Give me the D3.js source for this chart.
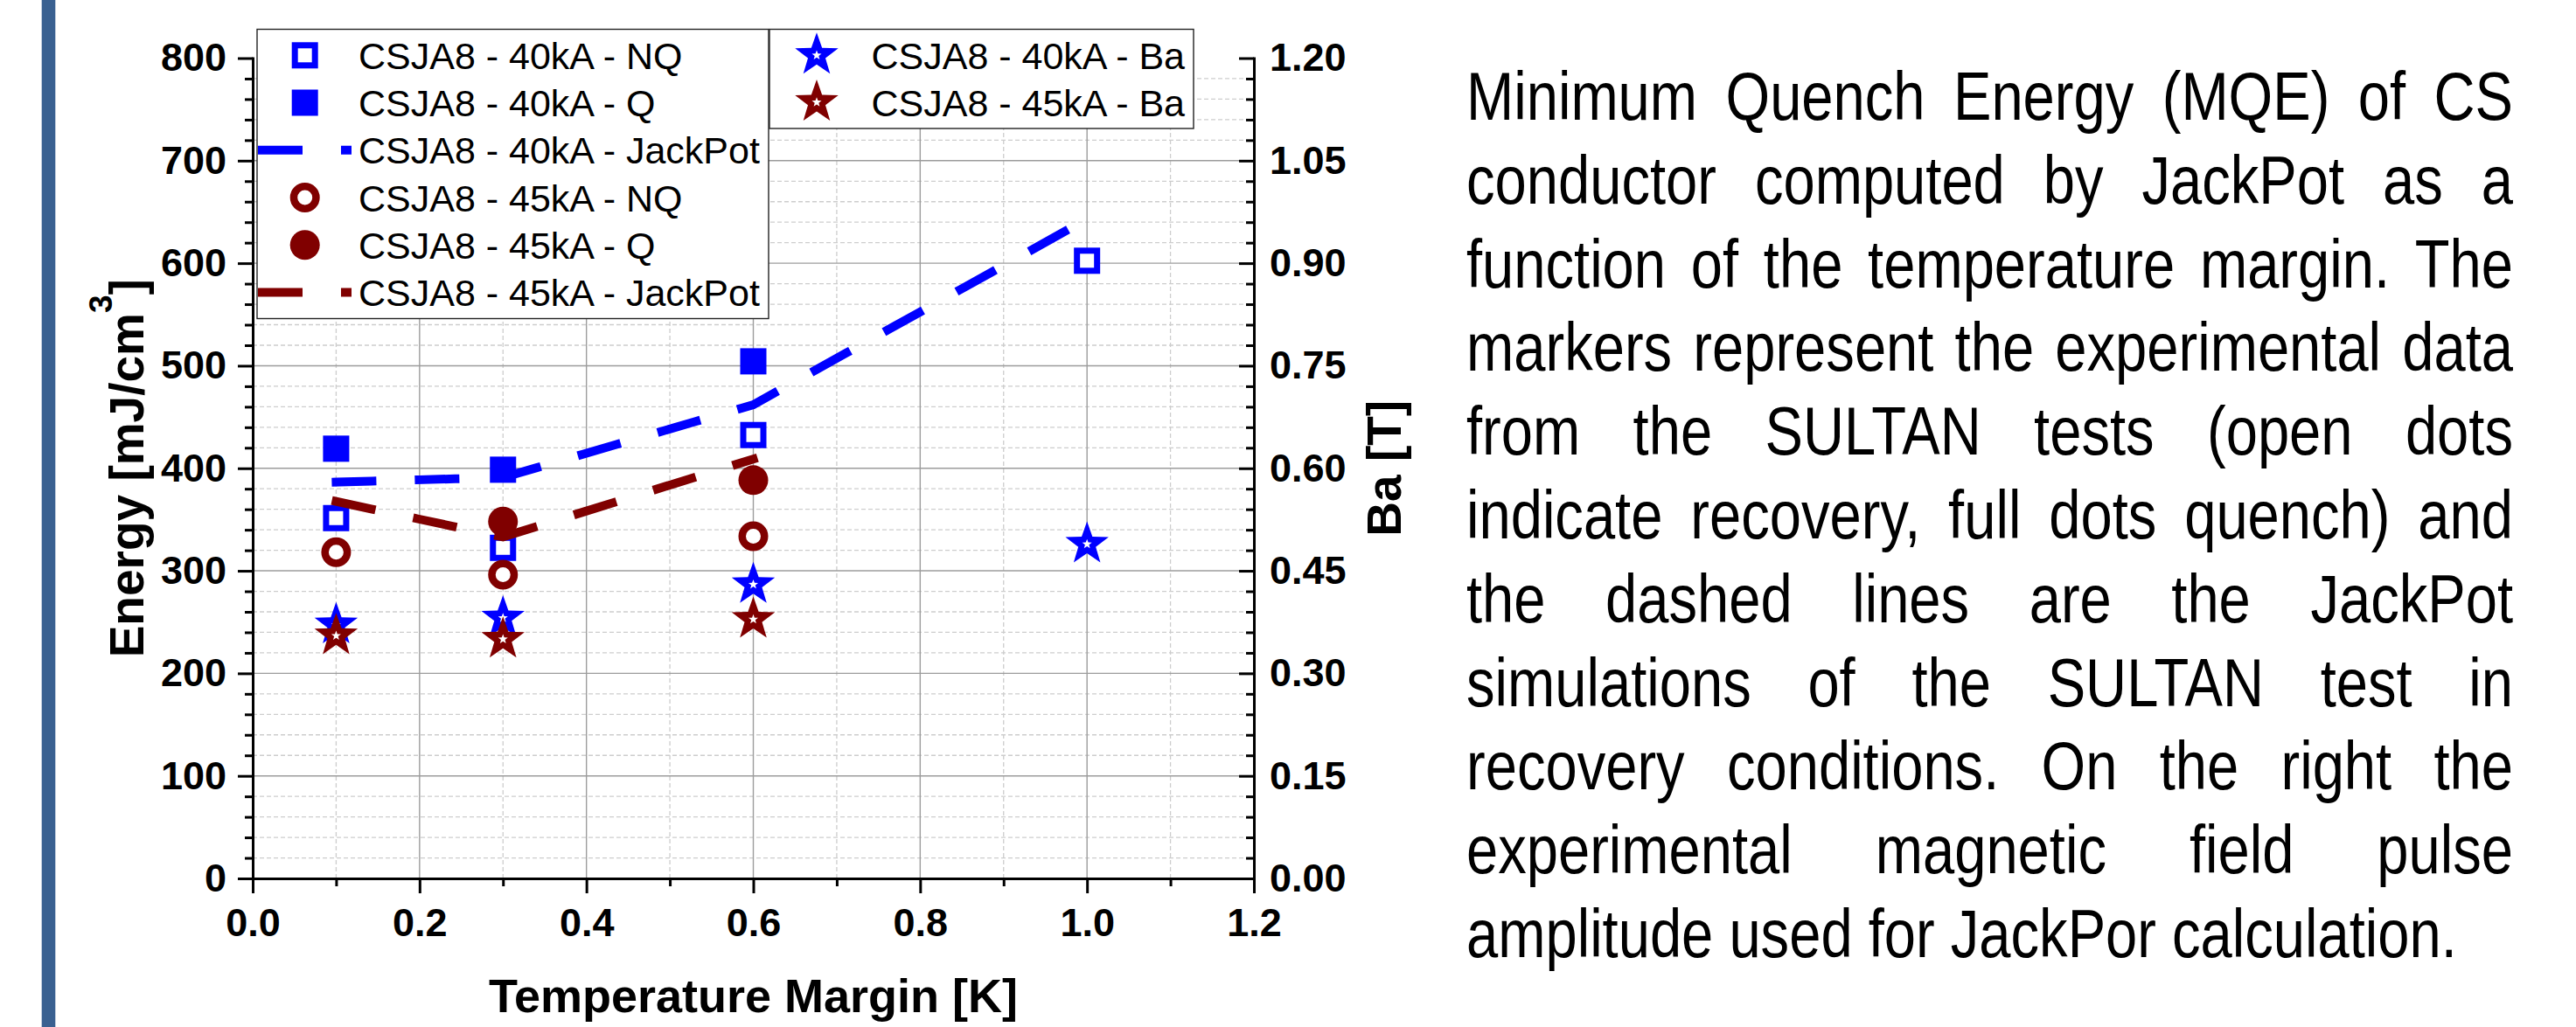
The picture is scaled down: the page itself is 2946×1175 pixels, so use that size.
<!DOCTYPE html>
<html><head><meta charset="utf-8">
<script src="https://cdn.jsdelivr.net/npm/d3@7"></script>
<style>body{margin:0;background:#fff}svg{display:block}</style>
</head><body>
<svg id="c" width="2946" height="1175"></svg>
<script>
// ---------- data ----------
const xTickValues = [0.0, 0.2, 0.4, 0.6, 0.8, 1.0, 1.2];
const xMinorValues = [0.1, 0.3, 0.5, 0.7, 0.9, 1.1];
const yTickValues = [0, 100, 200, 300, 400, 500, 600, 700, 800];
const yMinorValues = [20,40,60,80,120,140,160,180,220,240,260,280,320,340,360,380,420,440,460,480,520,540,560,580,620,640,660,680,720,740,760,780];
const rTickValues = [0.00, 0.15, 0.30, 0.45, 0.60, 0.75, 0.90, 1.05, 1.20];
const rMinorValues = [0.03,0.06,0.09,0.12,0.18,0.21,0.24,0.27,0.33,0.36,0.39,0.42,0.48,0.51,0.54,0.57,0.63,0.66,0.69,0.72,0.78,0.81,0.84,0.87,0.93,0.96,0.99,1.02,1.08,1.11,1.14,1.17];

// [temperature margin K, energy mJ/cm3]
const nq40 = [[0.1, 351.4], [0.3, 322.4], [0.6, 432.4], [1.0, 602.4]];
const q40  = [[0.1, 419.1], [0.3, 398.6], [0.6, 504.3]];
const jp40 = [[0.1, 386.5], [0.3, 391.0], [0.6, 462.0], [1.0, 643.0]];
const nq45 = [[0.1, 318.2], [0.3, 296.3], [0.6, 333.8]];
const q45  = [[0.3, 348.0], [0.6, 388.4]];
const jp45 = [[0.1, 367.6], [0.3, 333.0], [0.6, 409.0]];
// [temperature margin K, Ba T]
const ba40 = [[0.1, 0.371], [0.3, 0.381], [0.6, 0.430], [1.0, 0.489]];
const ba45 = [[0.1, 0.355], [0.3, 0.350], [0.6, 0.379]];

const legendLeft = ["CSJA8 - 40kA - NQ", "CSJA8 - 40kA - Q", "CSJA8 - 40kA - JackPot", "CSJA8 - 45kA - NQ", "CSJA8 - 45kA - Q", "CSJA8 - 45kA - JackPot"];
const legendRight = ["CSJA8 - 40kA - Ba", "CSJA8 - 45kA - Ba"];

const paragraph = [
  "Minimum Quench Energy (MQE) of CS",
  "conductor computed by JackPot as a",
  "function of the temperature margin. The",
  "markers represent the experimental data",
  "from the SULTAN tests (open dots",
  "indicate recovery, full dots quench) and",
  "the dashed lines are the JackPot",
  "simulations of the SULTAN test in",
  "recovery conditions. On the right the",
  "experimental magnetic field pulse",
  "amplitude used for JackPor calculation."
];

// ---------- setup ----------
const BLUE = "#0000ff", RED = "#800000";
const FONT = "'Liberation Sans', Arial, Helvetica, sans-serif";
const svg = d3.select("#c");

const x = d3.scaleLinear().domain([0, 1.2]).range([289, 1434]);
const y = d3.scaleLinear().domain([0, 800]).range([1005, 66.5]);
const yR = d3.scaleLinear().domain([0, 1.2]).range([1005, 66.5]);

// left decorative bar
svg.append("rect").attr("x", 47.7).attr("y", 0).attr("width", 15.6).attr("height", 1175).attr("fill", "#3a6191");

// ---------- grid ----------
const grid = svg.append("g");
grid.selectAll(".ymin").data(yMinorValues).join("line")
  .attr("x1", x(0)).attr("x2", x(1.2)).attr("y1", d => y(d)).attr("y2", d => y(d))
  .attr("stroke", "#cdcdcd").attr("stroke-width", 1.3).attr("stroke-dasharray", "5,3");
grid.selectAll(".xmin").data(xMinorValues).join("line")
  .attr("x1", d => x(d)).attr("x2", d => x(d)).attr("y1", y(0)).attr("y2", y(800))
  .attr("stroke", "#cdcdcd").attr("stroke-width", 1.3).attr("stroke-dasharray", "5,3");
grid.selectAll(".ymaj").data(yTickValues.filter(d => d > 0 && d < 800)).join("line")
  .attr("x1", x(0)).attr("x2", x(1.2)).attr("y1", d => y(d)).attr("y2", d => y(d))
  .attr("stroke", "#9c9c9c").attr("stroke-width", 1.4);
grid.selectAll(".xmaj").data(xTickValues.filter(d => d > 0 && d < 1.2)).join("line")
  .attr("x1", d => x(d)).attr("x2", d => x(d)).attr("y1", y(0)).attr("y2", y(800))
  .attr("stroke", "#9c9c9c").attr("stroke-width", 1.4);

// ---------- axes ----------
function styleAxis(g, showText) {
  g.attr("font-family", FONT).attr("font-size", 45).attr("font-weight", "bold");
  g.selectAll("path.domain").attr("stroke", "#000").attr("stroke-width", 3).attr("stroke-linecap", "square");
  g.selectAll(".tick line").attr("stroke", "#000").attr("stroke-width", 3);
  g.selectAll(".tick text").attr("fill", "#000");
  if (!showText) g.selectAll("path.domain").remove();
}
svg.append("g").attr("transform", `translate(${x(0)},0)`)
  .call(d3.axisLeft(y).tickValues(yMinorValues).tickSize(9).tickFormat(""))
  .call(g => styleAxis(g, false));
svg.append("g").attr("transform", `translate(${x(0)},0)`)
  .call(d3.axisLeft(y).tickValues(yTickValues).tickSize(17).tickSizeOuter(0).tickPadding(13).tickFormat(d3.format("d")))
  .call(g => styleAxis(g, true));

svg.append("g").attr("transform", `translate(0,${y(0)})`)
  .call(d3.axisBottom(x).tickValues(xMinorValues).tickSize(9).tickFormat(""))
  .call(g => styleAxis(g, false));
svg.append("g").attr("transform", `translate(0,${y(0)})`)
  .call(d3.axisBottom(x).tickValues(xTickValues).tickSize(17).tickSizeOuter(0).tickPadding(17).tickFormat(d3.format(".1f")))
  .call(g => styleAxis(g, true));

svg.append("g").attr("transform", `translate(${x(1.2)},0)`)
  .call(d3.axisRight(yR).tickValues(rMinorValues).tickSize(-9).tickFormat(""))
  .call(g => styleAxis(g, false));
svg.append("g").attr("transform", `translate(${x(1.2)},0)`)
  .call(d3.axisRight(yR).tickValues(rTickValues).tickSize(-17).tickSizeOuter(0).tickPadding(18).tickFormat(d3.format(".2f")))
  .call(g => styleAxis(g, true));

// axis titles
svg.append("text").attr("x", (x(0) + x(1.2)) / 2).attr("y", 1158)
  .attr("text-anchor", "middle").attr("font-family", FONT).attr("font-weight", "bold").attr("font-size", 54)
  .text("Temperature Margin [K]");
const yt = svg.append("text").attr("transform", `translate(164,${(y(0) + y(800)) / 2}) rotate(-90)`)
  .attr("text-anchor", "middle").attr("font-family", FONT).attr("font-weight", "bold").attr("font-size", 55);
yt.append("tspan").text("Energy [mJ/cm");
yt.append("tspan").attr("font-size", 37).attr("dy", -36).text("3");
yt.append("tspan").attr("dy", 36).text("]");
svg.append("text").attr("transform", `translate(1602,${(y(0) + y(800)) / 2}) rotate(-90)`)
  .attr("text-anchor", "middle").attr("font-family", FONT).attr("font-weight", "bold").attr("font-size", 55)
  .text("Ba [T]");

// ---------- marks ----------
const line = d3.line().x(d => x(d[0])).y(d => y(d[1]));
function starPath(R, r) {
  const pts = [];
  for (let i = 0; i < 10; i++) {
    const a = -Math.PI / 2 + i * Math.PI / 5;
    const rad = i % 2 === 0 ? R : r;
    pts.push([rad * Math.cos(a), rad * Math.sin(a)]);
  }
  return "M" + pts.map(p => p.join(",")).join("L") + "Z";
}
const marks = svg.append("g");
function openSquares(g, data, color) {
  g.selectAll(null).data(data).join("rect")
    .attr("x", d => x(d[0]) - 11.5).attr("y", d => y(d[1]) - 11.5)
    .attr("width", 23).attr("height", 23).attr("fill", "#fff").attr("stroke", color).attr("stroke-width", 7);
}
function filledSquares(g, data, color) {
  g.selectAll(null).data(data).join("rect")
    .attr("x", d => x(d[0]) - 15).attr("y", d => y(d[1]) - 15)
    .attr("width", 30).attr("height", 30).attr("fill", color);
}
function openCircles(g, data, color) {
  g.selectAll(null).data(data).join("circle")
    .attr("cx", d => x(d[0])).attr("cy", d => y(d[1])).attr("r", 12.75)
    .attr("fill", "#fff").attr("stroke", color).attr("stroke-width", 8.5);
}
function filledCircles(g, data, color) {
  g.selectAll(null).data(data).join("circle")
    .attr("cx", d => x(d[0])).attr("cy", d => y(d[1])).attr("r", 17).attr("fill", color);
}
function dashed(g, data, color) {
  g.append("path").datum(data).attr("d", line).attr("fill", "none")
    .attr("stroke", color).attr("stroke-width", 10).attr("stroke-dasharray", "41,54")
    .attr("stroke-linecap", "square");
}
function stars(g, data, color, scale) {
  const s = g.selectAll(null).data(data).join("g")
    .attr("transform", d => `translate(${x(d[0])},${scale(d[1])})`);
  s.append("path").attr("d", starPath(26, 10.5)).attr("fill", color);
  s.append("path").attr("d", starPath(5.8, 2.4)).attr("fill", "#fff");
}
openSquares(marks.append("g"), nq40, BLUE);
filledSquares(marks.append("g"), q40, BLUE);
dashed(marks, jp40, BLUE);
openCircles(marks.append("g"), nq45, RED);
filledCircles(marks.append("g"), q45, RED);
dashed(marks, jp45, RED);
stars(marks.append("g"), ba40, BLUE, yR);
stars(marks.append("g"), ba45, RED, yR);

// ---------- legends ----------
const leg = svg.append("g").attr("font-family", FONT).attr("font-size", 43);
leg.append("rect").attr("x", 294).attr("y", 33.5).attr("width", 585).attr("height", 331)
  .attr("fill", "#fff").attr("stroke", "#222").attr("stroke-width", 1.4);
leg.append("rect").attr("x", 880).attr("y", 33.5).attr("width", 485).attr("height", 113.5)
  .attr("fill", "#fff").attr("stroke", "#222").attr("stroke-width", 1.4);
const rowsL = [63.3, 117.5, 171.7, 226, 280.2, 334.4];
const mx = 348.7;
leg.selectAll(".lt").data(legendLeft).join("text")
  .attr("x", 410).attr("y", (d, i) => rowsL[i] + 15.5).text(d => d);
leg.append("rect").attr("x", mx - 11.5).attr("y", rowsL[0] - 11.5).attr("width", 23).attr("height", 23)
  .attr("fill", "#fff").attr("stroke", BLUE).attr("stroke-width", 7);
leg.append("rect").attr("x", mx - 15).attr("y", rowsL[1] - 15).attr("width", 30).attr("height", 30).attr("fill", BLUE);
leg.append("line").attr("x1", 300).attr("x2", 397).attr("y1", rowsL[2]).attr("y2", rowsL[2])
  .attr("stroke", BLUE).attr("stroke-width", 10).attr("stroke-dasharray", "41,54").attr("stroke-linecap", "square");
leg.append("circle").attr("cx", mx).attr("cy", rowsL[3]).attr("r", 12.75).attr("fill", "#fff")
  .attr("stroke", RED).attr("stroke-width", 8.5);
leg.append("circle").attr("cx", mx).attr("cy", rowsL[4]).attr("r", 17).attr("fill", RED);
leg.append("line").attr("x1", 300).attr("x2", 397).attr("y1", rowsL[5]).attr("y2", rowsL[5])
  .attr("stroke", RED).attr("stroke-width", 10).attr("stroke-dasharray", "41,54").attr("stroke-linecap", "square");
const rowsR = [63.3, 117];
leg.selectAll(".rt").data(legendRight).join("text")
  .attr("x", 996.5).attr("y", (d, i) => rowsR[i] + 15.5).text(d => d);
[BLUE, RED].forEach((c, i) => {
  const s = leg.append("g").attr("transform", `translate(934,${rowsR[i]})`);
  s.append("path").attr("d", starPath(26, 10.5)).attr("fill", c);
  s.append("path").attr("d", starPath(5.8, 2.4)).attr("fill", "#fff");
});

// ---------- paragraph (justified, condensed) ----------
// pick a narrow face if one is installed, otherwise condense the regular one
function measure(fam, str) {
  const t = svg.append("text").attr("font-family", fam).attr("font-size", 77).text(str);
  const w = t.node().getComputedTextLength(); t.remove(); return w;
}
const probe = "amplitude used for JackPor calculation.";
const narrowFam = "'Liberation Sans Narrow', 'Arial Narrow', monospace";
const hasNarrow = Math.abs(measure(narrowFam, probe) - measure("monospace", probe)) > 1;
const PFONT = hasNarrow ? "'Liberation Sans Narrow', 'Arial Narrow', sans-serif" : FONT;
const lastW = measure(PFONT, probe);
const SX = 1133 / lastW;                       // last line ends at x≈2810
const PX0 = 1677, PX1 = 2874, B0 = 137, LH = 95.8;
const W = (PX1 - PX0) / SX;
const para = svg.append("g").attr("transform", `translate(${PX0},0) scale(${SX},1)`)
  .attr("font-family", PFONT).attr("font-size", 77).attr("fill", "#000");
paragraph.forEach((ln, i) => {
  const yy = B0 + i * LH;
  if (i === paragraph.length - 1) {
    para.append("text").attr("x", 0).attr("y", yy).text(ln);
    return;
  }
  const words = ln.split(" ");
  const nodes = words.map(w => para.append("text").attr("y", yy).text(w));
  const widths = nodes.map(n => n.node().getComputedTextLength());
  const gap = (W - d3.sum(widths)) / (words.length - 1);
  let cx = 0;
  nodes.forEach((n, k) => { n.attr("x", cx); cx += widths[k] + gap; });
});
</script>
</body></html>
